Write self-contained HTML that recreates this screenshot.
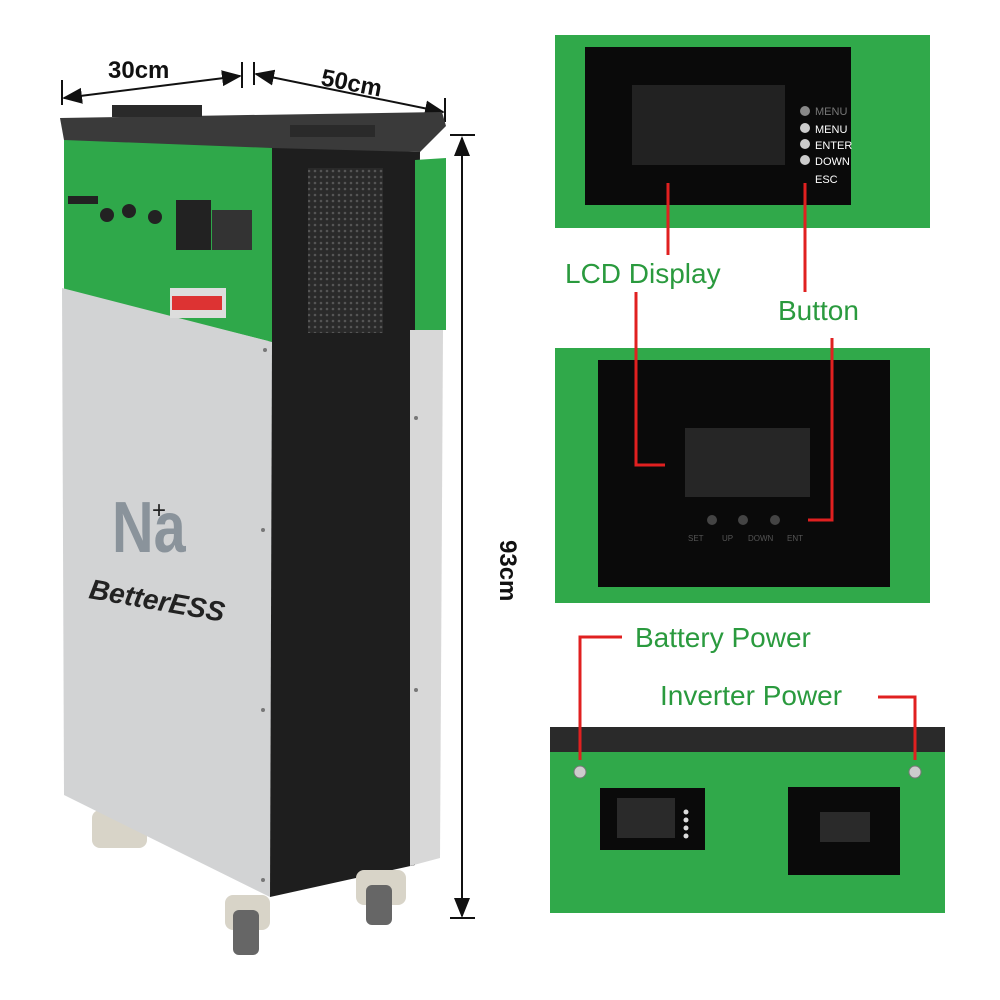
<!DOCTYPE html>
<html><head><meta charset="utf-8"><style>
html,body{margin:0;padding:0;background:#fff;width:1000px;height:1000px;overflow:hidden}
svg{display:block}
text{font-family:"Liberation Sans",sans-serif}
</style></head><body>
<svg width="1000" height="1000" viewBox="0 0 1000 1000" xmlns="http://www.w3.org/2000/svg">
<defs>
<marker id="ar" markerWidth="10" markerHeight="10" refX="9" refY="5" orient="auto-start-reverse"><path d="M0,1 L10,5 L0,9 z" fill="#111"/></marker>
<pattern id="mesh" width="6" height="6" patternUnits="userSpaceOnUse"><rect width="6" height="6" fill="#2a2a2a"/><circle cx="3" cy="3" r="1.3" fill="#555"/></pattern>
</defs>
<rect width="1000" height="1000" fill="#fff"/>

<!-- dimensions -->
<line x1="64" y1="98" x2="240" y2="76" stroke="#111" stroke-width="2" marker-start="url(#ar)" marker-end="url(#ar)"/>
<line x1="62" y1="80" x2="62" y2="105" stroke="#111" stroke-width="2"/>
<line x1="242" y1="62" x2="242" y2="88" stroke="#111" stroke-width="2"/>
<text x="108" y="78" font-size="24" font-weight="bold" fill="#111">30cm</text>
<line x1="256" y1="74" x2="443" y2="112" stroke="#111" stroke-width="2" marker-start="url(#ar)" marker-end="url(#ar)"/>
<line x1="254" y1="62" x2="254" y2="85" stroke="#111" stroke-width="2"/>
<line x1="445" y1="98" x2="445" y2="122" stroke="#111" stroke-width="2"/>
<text x="320" y="85" font-size="24" font-weight="bold" fill="#111" transform="rotate(11 320 85)">50cm</text>
<line x1="462" y1="138" x2="462" y2="916" stroke="#111" stroke-width="2" marker-start="url(#ar)" marker-end="url(#ar)"/>
<line x1="450" y1="135" x2="475" y2="135" stroke="#111" stroke-width="2"/>
<line x1="450" y1="918" x2="475" y2="918" stroke="#111" stroke-width="2"/>
<text x="0" y="0" font-size="24" font-weight="bold" fill="#111" transform="translate(500 540) rotate(90)">93cm</text>

<!-- cabinet -->
<rect x="92" y="810" width="55" height="38" rx="8" fill="#d8d4c8"/>
<polygon points="268,145 420,152 415,865 270,897" fill="#1e1e1e"/>
<rect x="308" y="168" width="75" height="165" fill="url(#mesh)"/>
<polygon points="415,160 446,158 446,330 415,330" fill="#2fa84a"/>
<polygon points="410,330 443,330 440,858 410,866" fill="#d8d8d8"/>
<polygon points="64,138 272,145 272,342 64,290" fill="#2fa84a"/>
<polygon points="62,288 272,342 270,897 64,795" fill="#d2d3d4"/>
<polygon points="60,118 442,112 446,126 420,152 272,148 64,140" fill="#3a3a3a"/>
<rect x="112" y="105" width="90" height="12" fill="#2a2a2a"/>
<rect x="290" y="125" width="85" height="12" fill="#2a2a2a"/>
<rect x="176" y="200" width="35" height="50" fill="#222"/>
<rect x="212" y="210" width="40" height="40" fill="#333"/>
<circle cx="107" cy="215" r="7" fill="#222"/>
<circle cx="129" cy="211" r="7" fill="#222"/>
<circle cx="155" cy="217" r="7" fill="#222"/>
<rect x="68" y="196" width="30" height="8" fill="#222"/>
<rect x="170" y="288" width="56" height="30" fill="#ddd"/>
<rect x="172" y="296" width="50" height="14" fill="#d33"/>
<g fill="#777"><circle cx="265" cy="350" r="2"/><circle cx="263" cy="530" r="2"/><circle cx="263" cy="710" r="2"/><circle cx="263" cy="880" r="2"/><circle cx="416" cy="418" r="2"/><circle cx="416" cy="690" r="2"/></g>
<text x="0" y="0" font-size="72" fill="#8a939b" font-weight="bold" transform="translate(112 552) scale(0.8 1)">Na</text>
<text x="152" y="518" font-size="24" fill="#222">+</text>
<text x="88" y="598" font-size="28" font-weight="bold" fill="#222" font-style="italic" transform="rotate(10 88 598)">BetterESS</text>
<!-- wheels -->
<rect x="225" y="895" width="45" height="35" rx="8" fill="#d8d4c8"/>
<rect x="233" y="910" width="26" height="45" rx="6" fill="#666"/>
<rect x="356" y="870" width="50" height="35" rx="8" fill="#d8d4c8"/>
<rect x="366" y="885" width="26" height="40" rx="6" fill="#666"/>

<!-- panel 1 -->
<rect x="555" y="35" width="375" height="193" fill="#30a94a"/>
<rect x="585" y="47" width="266" height="158" fill="#0a0a0a"/>
<rect x="632" y="85" width="153" height="80" fill="#222"/>
<g font-size="11" fill="#fff">
<circle cx="805" cy="111" r="5" fill="#888"/><text x="815" y="115" fill="#777">MENU</text>
<circle cx="805" cy="128" r="5" fill="#ccc"/><text x="815" y="133">MENU</text>
<circle cx="805" cy="144" r="5" fill="#ccc"/><text x="815" y="149">ENTER</text>
<circle cx="805" cy="160" r="5" fill="#ccc"/><text x="815" y="165">DOWN</text>
<text x="815" y="183">ESC</text>
</g>
<line x1="668" y1="183" x2="668" y2="255" stroke="#e02020" stroke-width="3"/>
<line x1="805" y1="183" x2="805" y2="292" stroke="#e02020" stroke-width="3"/>
<text x="565" y="283" font-size="28" fill="#2a9a3e">LCD Display</text>
<text x="778" y="320" font-size="28" fill="#2a9a3e">Button</text>

<!-- panel 2 -->
<rect x="555" y="348" width="375" height="255" fill="#30a94a"/>
<rect x="598" y="360" width="292" height="227" fill="#0a0a0a"/>
<rect x="685" y="428" width="125" height="69" fill="#262626"/>
<g fill="#444"><circle cx="712" cy="520" r="5"/><circle cx="743" cy="520" r="5"/><circle cx="775" cy="520" r="5"/></g>
<g font-size="8" fill="#555"><text x="688" y="541">SET</text><text x="722" y="541">UP</text><text x="748" y="541">DOWN</text><text x="787" y="541">ENT</text></g>
<polyline points="636,292 636,465 665,465" fill="none" stroke="#e02020" stroke-width="3"/>
<polyline points="832,338 832,520 808,520" fill="none" stroke="#e02020" stroke-width="3"/>

<!-- panel 3 -->
<rect x="550" y="727" width="395" height="186" fill="#30a94a"/>
<rect x="550" y="727" width="395" height="25" fill="#2a2a2a"/>
<circle cx="580" cy="772" r="6" fill="#ccc" stroke="#777"/>
<circle cx="915" cy="772" r="6" fill="#ccc" stroke="#777"/>
<rect x="600" y="788" width="105" height="62" fill="#0a0a0a"/>
<rect x="617" y="798" width="58" height="40" fill="#2a2a2a"/>
<g fill="#ddd"><circle cx="686" cy="812" r="2.5"/><circle cx="686" cy="820" r="2.5"/><circle cx="686" cy="828" r="2.5"/><circle cx="686" cy="836" r="2.5"/></g>
<rect x="788" y="787" width="112" height="88" fill="#0a0a0a"/>
<rect x="820" y="812" width="50" height="30" fill="#2a2a2a"/>
<polyline points="580,760 580,637 622,637" fill="none" stroke="#e02020" stroke-width="3"/>
<polyline points="878,697 915,697 915,760" fill="none" stroke="#e02020" stroke-width="3"/>
<text x="635" y="647" font-size="28" fill="#2a9a3e">Battery Power</text>
<text x="660" y="705" font-size="28" fill="#2a9a3e">Inverter Power</text>
</svg>
</body></html>
